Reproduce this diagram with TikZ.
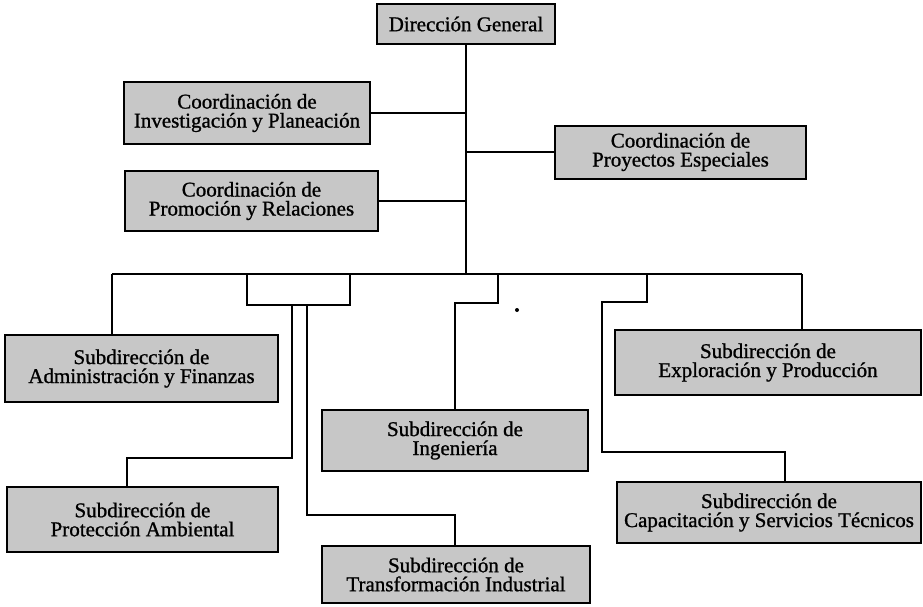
\documentclass[tikz,border=0pt]{standalone}
\usepackage{fontspec}
\setmainfont{Liberation Serif}
\begin{document}
\begin{tikzpicture}[x=1pt,y=-1pt,
  box/.style={draw, line width=2pt, fill=black!22, inner sep=0pt, align=center,
    font=\fontsize{21}{19}\selectfont\addfontfeature{FakeBold=1}},
  link/.style={line width=1.7pt, line join=miter}]
\useasboundingbox (0,0) rectangle (923,606);

% top management
\node[box, minimum width=178, minimum height=40] (dg) at (466,24) {Dirección General};
\node[box, minimum width=246, minimum height=62] (inv) at (247,113) {Coordinación de\\Investigación y Planeación};
\node[box, minimum width=253, minimum height=60] (pro) at (251.5,201) {Coordinación de\\Promoción y Relaciones};
\node[box, minimum width=251, minimum height=53] (pe) at (680.5,152) {Coordinación de\\Proyectos Especiales};

% sub-directorates
\node[box, minimum width=273, minimum height=67] (adm) at (141.5,368.5) {Subdirección de\\Administración y Finanzas};
\node[box, minimum width=271, minimum height=65] (amb) at (142.5,519.5) {Subdirección de\\Protección Ambiental};
\node[box, minimum width=266, minimum height=61] (ing) at (455,440.5) {Subdirección de\\Ingeniería};
\node[box, minimum width=268, minimum height=57] (tra) at (456,574.5) {Subdirección de\\Transformación Industrial};
\node[box, minimum width=306, minimum height=65] (exp) at (768,362.5) {Subdirección de\\Exploración y Producción};
\node[box, minimum width=304, minimum height=61] (cap) at (769,512.5) {Subdirección de\\Capacitación y Servicios Técnicos};

% junction points of the distribution bar
\coordinate (bj) at (466,274);
\coordinate (bL) at (112,274);
\coordinate (bR) at (802,274);
\coordinate (k1) at (247,274);
\coordinate (k2) at (350,274);
\coordinate (k3) at (498,274);
\coordinate (k4) at (647,274);

% trunk and staff connections
\draw[link] (dg.south) -- (bj);
\draw[link] (inv.east) -- (inv.east -| bj);
\draw[link] (pro.east) -- (pro.east -| bj);
\draw[link] (pe.west) -- (pe.west -| bj);

% main bar
\draw[link] (bL) -- (bR);
\draw[link] (bL) -- (bL |- adm.north);
\draw[link] (bR) -- (bR |- exp.north);

% left bracket feeding two branches
\draw[link] (k1) -- (247,305) -- (350,305) -- (k2);
\draw[link] (292,305) -- (292,458) -- (127,458) -- (127,0 |- amb.north);
\draw[link] (307,305) -- (307,515) -- (455,515) -- (455,0 |- tra.north);

% engineering branch
\draw[link] (k3) -- (498,303) -- (455,303) -- (ing.north);

% right branch
\draw[link] (k4) -- (647,302) -- (602,302) -- (602,452) -- (785,452) -- (785,0 |- cap.north);

% stray dot
\fill (517,310) circle (2);
\end{tikzpicture}
\end{document}
